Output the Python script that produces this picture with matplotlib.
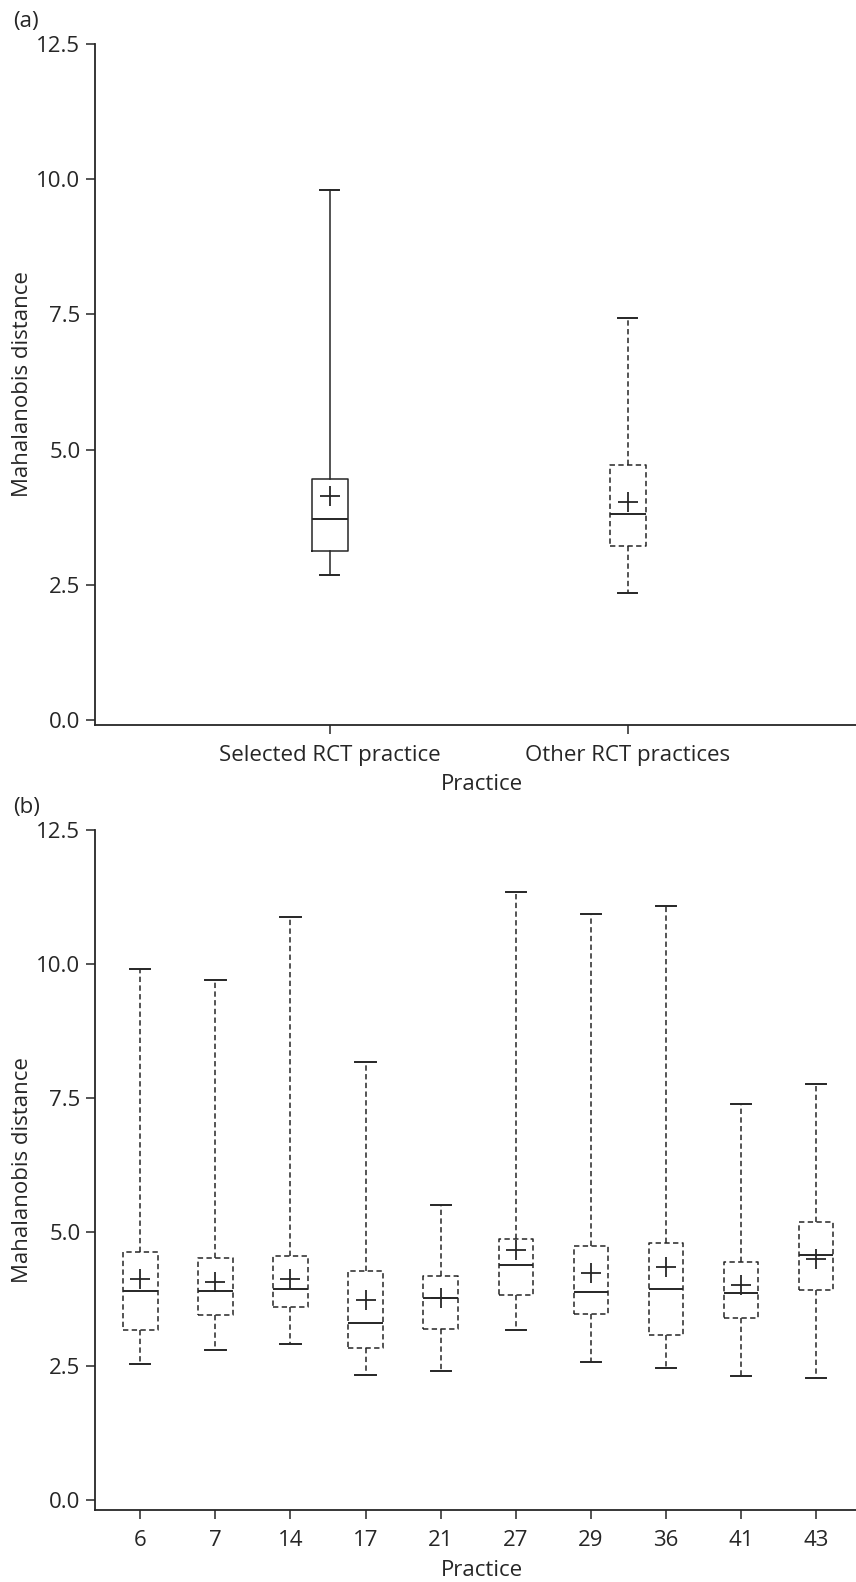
import matplotlib
matplotlib.use('Agg')
import matplotlib.pyplot as plt

# ---------------- data ----------------
a_labels = ['Selected RCT practice', 'Other RCT practices']
a_whislo = [2.68, 2.36]
a_q1 = [3.13, 3.22]
a_med = [3.71, 3.81]
a_q3 = [4.45, 4.71]
a_whishi = [9.80, 7.44]
a_mean = [4.15, 4.03]

b_labels = ['6', '7', '14', '17', '21', '27', '29', '36', '41', '43']
b_whislo = [2.54, 2.81, 2.92, 2.33, 2.41, 3.17, 2.58, 2.47, 2.31, 2.29]
b_q1 = [3.18, 3.45, 3.60, 2.84, 3.20, 3.83, 3.47, 3.08, 3.40, 3.93]
b_med = [3.90, 3.90, 3.95, 3.30, 3.78, 4.39, 3.88, 3.94, 3.87, 4.58]
b_q3 = [4.64, 4.51, 4.55, 4.27, 4.18, 4.87, 4.74, 4.80, 4.44, 5.19]
b_whishi = [9.91, 9.71, 10.87, 8.18, 5.50, 11.34, 10.93, 11.08, 7.40, 7.77]
b_mean = [4.13, 4.08, 4.13, 3.74, 3.78, 4.66, 4.24, 4.36, 4.02, 4.50]

y_ticks = [0.0, 2.5, 5.0, 7.5, 10.0, 12.5]

# ---------------- style ----------------
plt.rcParams['font.family'] = ['Open Sans', 'DejaVu Sans']
C = '#262626'
FS = 16
LW = 1.1
DASH = (0, (3.5, 2.2))

W, H = 856, 1582
fig = plt.figure(figsize=(W / 100, H / 100), dpi=100)


def rect(left, right, top, bottom):
    return [left / W, 1 - bottom / H, (right - left) / W, (bottom - top) / H]


def make_stats(lo, q1, med, q3, hi, mean, labels):
    return [dict(whislo=l, q1=a, med=m, q3=b, whishi=h, mean=mu, label=lab, fliers=[])
            for l, a, m, b, h, mu, lab in zip(lo, q1, med, q3, hi, mean, labels)]


def draw(ax, stats, positions, width, capw, dashed):
    ls = DASH if dashed else '-'
    ax.bxp(stats, positions=positions, widths=width, capwidths=capw,
           showmeans=True, showfliers=False, manage_ticks=False,
           boxprops=dict(color=C, linewidth=LW, linestyle=ls),
           whiskerprops=dict(color=C, linewidth=LW, linestyle=ls),
           capprops=dict(color=C, linewidth=1.4),
           medianprops=dict(color=C, linewidth=1.4),
           meanprops=dict(marker='+', markersize=15, markeredgecolor=C,
                          markeredgewidth=1.3, markerfacecolor='none'))


def style(ax, xlim, ylim, ticks, labels):
    for s in ['top', 'right']:
        ax.spines[s].set_visible(False)
    for s in ['left', 'bottom']:
        ax.spines[s].set_linewidth(1.3)
        ax.spines[s].set_color(C)
    ax.set_xlim(*xlim)
    ax.set_ylim(*ylim)
    ax.set_yticks(y_ticks)
    ax.set_yticklabels([f'{v:.1f}' for v in y_ticks])
    ax.set_xticks(ticks)
    ax.set_xticklabels(labels)
    ax.tick_params(axis='both', direction='out', length=6.5, width=1.1,
                   color=C, labelcolor=C, labelsize=FS)
    ax.tick_params(axis='y', pad=4)
    ax.tick_params(axis='x', pad=8)
    ax.set_ylabel('Mahalanobis distance', fontsize=FS, color=C)
    ax.set_xlabel('Practice', fontsize=FS, color=C)
    ax.yaxis.set_label_coords(-0.0815, 0.5)


# ---------------- panel (a) ----------------
ax1 = fig.add_axes(rect(95, 856, 43.7, 725))
sa = make_stats(a_whislo, a_q1, a_med, a_q3, a_whishi, a_mean, a_labels)
draw(ax1, sa[:1], [1], 0.12, 0.064, dashed=False)
draw(ax1, sa[1:], [2], 0.12, 0.064, dashed=True)
style(ax1, (0.2124, 2.766), (-0.087, 12.5), [1, 2], a_labels)
ax1.xaxis.set_label_coords(0.508, -0.072)

# ---------------- panel (b) ----------------
ax2 = fig.add_axes(rect(95, 856, 830, 1510))
sb = make_stats(b_whislo, b_q1, b_med, b_q3, b_whishi, b_mean, b_labels)
pos_b = list(range(len(b_labels)))
draw(ax2, sb, pos_b, 0.46, 0.27, dashed=True)
style(ax2, (-0.603, 9.53), (-0.18, 12.5), pos_b, b_labels)
ax2.xaxis.set_label_coords(0.508, -0.0735)

fig.text(13 / W, 1 - 21 / H, '(a)', fontsize=FS, color=C, ha='left', va='center')
fig.text(13 / W, 1 - 808 / H, '(b)', fontsize=FS, color=C, ha='left', va='center')

fig.savefig('out.png', dpi=100)
